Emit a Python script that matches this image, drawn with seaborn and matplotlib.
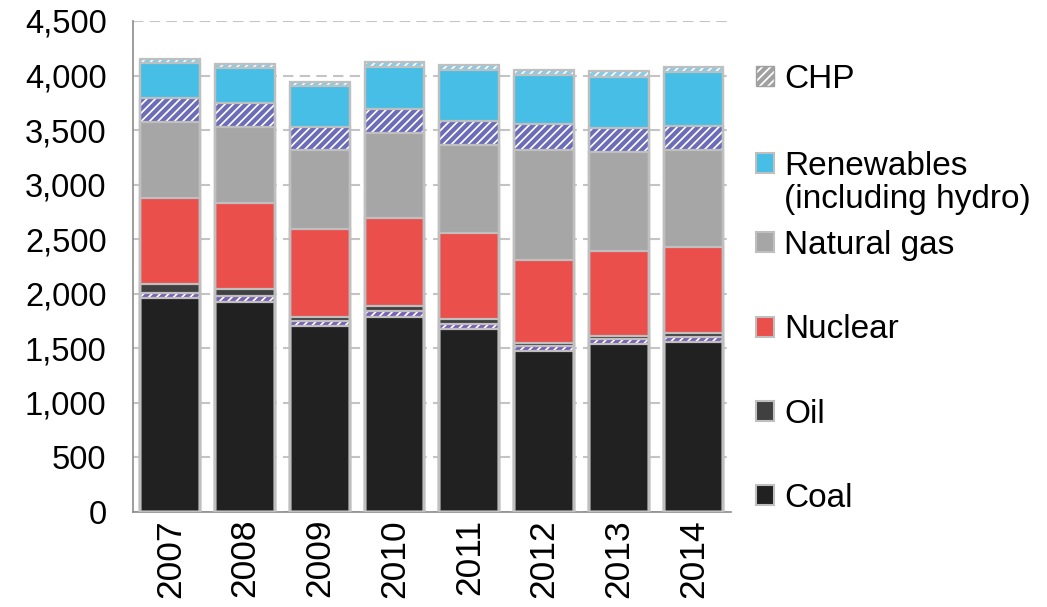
import matplotlib
matplotlib.use("Agg")
import matplotlib.pyplot as plt
from matplotlib.patches import Patch
from matplotlib.ticker import FuncFormatter, FixedLocator
import numpy as np
import seaborn as sns

years = ["2007", "2008", "2009", "2010", "2011", "2012", "2013", "2014"]
coal = [1960, 1925, 1700, 1790, 1675, 1475, 1540, 1560]
coal_chp = [50, 55, 50, 50, 50, 45, 45, 45]
oil = [75, 60, 40, 45, 45, 25, 25, 35]
nuclear = [790, 790, 800, 805, 785, 765, 785, 785]
natural_gas = [700, 700, 730, 780, 810, 1010, 900, 895]
gas_chp = [220, 215, 205, 220, 215, 235, 225, 220]
renewables = [320, 320, 380, 385, 470, 450, 470, 495]
renewables_chp = [40, 40, 40, 45, 45, 45, 50, 45]

EDGE = "#bfbfbf"
# (values, facecolor, hatch colour or None), bottom to top
layers = [
    (coal, "#212121", None),
    (coal_chp, "white", "#7a62b4"),
    (oil, "#404040", None),
    (nuclear, "#ea4f4c", None),
    (natural_gas, "#a6a6a6", None),
    (gas_chp, "white", "#6c6cb8"),
    (renewables, "#46bee5", None),
    (renewables_chp, "white", "#8ccbe6"),
]

sns.set_style("white")
plt.rcParams["font.family"] = ["Liberation Sans", "DejaVu Sans"]
plt.rcParams["hatch.linewidth"] = 3.0
plt.rcParams["text.color"] = "black"
plt.rcParams["xtick.color"] = "black"
plt.rcParams["ytick.color"] = "black"

fig = plt.figure(figsize=(10.47, 6.07), dpi=100)
ax = fig.add_axes([0.127, 0.1565, 0.571, 0.809])

tops = np.cumsum(np.array([l[0] for l in layers]), axis=0)

# fills, tallest first so lower layers sit on top
for i in range(len(layers) - 1, -1, -1):
    vals, face, hcol = layers[i]
    n0 = len(ax.patches)
    sns.barplot(x=years, y=tops[i], color=face, saturation=1, width=0.8,
                errorbar=None, ax=ax)
    for p in ax.patches[n0:]:
        p.set_facecolor(face)
        p.set_linewidth(0)
        if hcol:
            p.set_edgecolor(hcol)
            p.set_hatch("////")
        p.set_zorder(2)

# grey outlines for every segment
for i in range(len(layers)):
    n0 = len(ax.patches)
    sns.barplot(x=years, y=tops[i], color=EDGE, saturation=1, width=0.8,
                errorbar=None, fill=False, ax=ax)
    for p in ax.patches[n0:]:
        p.set_facecolor("none")
        p.set_edgecolor(EDGE)
        p.set_linewidth(1.6)
        p.set_zorder(3)

ax.set_ylim(0, 4500)
ax.set_xlim(-0.5, 7.5)
ax.set_yticks(np.arange(0, 4501, 500))
ax.yaxis.set_major_formatter(FuncFormatter(lambda v, _: f"{int(v):,}"))
ax.set_axisbelow(True)
ax.yaxis.grid(True, color="#c4c4c4", linestyle=(0, (5, 3)), linewidth=1.5)
ax.xaxis.grid(False)

for s in ["top", "right"]:
    ax.spines[s].set_visible(False)
for s in ["left", "bottom"]:
    ax.spines[s].set_color("#8c8c8c")
    ax.spines[s].set_linewidth(1.2)

ax.xaxis.set_minor_locator(FixedLocator(np.arange(-0.5, 8, 1)))
ax.tick_params(axis="x", which="major", length=0, pad=5, labelsize=25.5,
               rotation=90)
ax.tick_params(axis="x", which="minor", length=9, width=1.2,
               color="#8c8c8c", direction="out")
ax.tick_params(axis="y", length=7, width=1.2, color="#8c8c8c",
               direction="out", labelsize=23.5, pad=12)
ax.set_xlabel("")
ax.set_ylabel("")

leg_kw = dict(loc="center left", frameon=False, fontsize=24,
              handlelength=0.55, handleheight=0.55, handletextpad=0.3,
              borderpad=0, borderaxespad=0)
LX = 0.722

chp_handle = Patch(facecolor="white", edgecolor="#a0a0a0", hatch="////",
                   linewidth=1)
fig.legend([chp_handle], ["CHP"], bbox_to_anchor=(LX, 1 - 79 / 607),
           **leg_kw)

ren_handles = [Patch(facecolor="#46bee5", edgecolor=EDGE, linewidth=1.5),
               Patch(alpha=0)]
fig.legend(ren_handles, ["Renewables", "(including hydro)"],
           bbox_to_anchor=(LX, 1 - 183 / 607), labelspacing=0.05,
           **leg_kw)

rest_labels = ["Natural gas", "Nuclear", "Oil", "Coal"]
rest_handles = [
    Patch(facecolor="#a6a6a6", edgecolor=EDGE, linewidth=1.5),
    Patch(facecolor="#ea4f4c", edgecolor=EDGE, linewidth=1.5),
    Patch(facecolor="#404040", edgecolor=EDGE, linewidth=1.5),
    Patch(facecolor="#212121", edgecolor=EDGE, linewidth=1.5),
]
fig.legend(rest_handles, rest_labels, bbox_to_anchor=(LX, 1 - 372 / 607),
           labelspacing=1.6, **leg_kw)

fig.savefig("out.png", dpi=100)
